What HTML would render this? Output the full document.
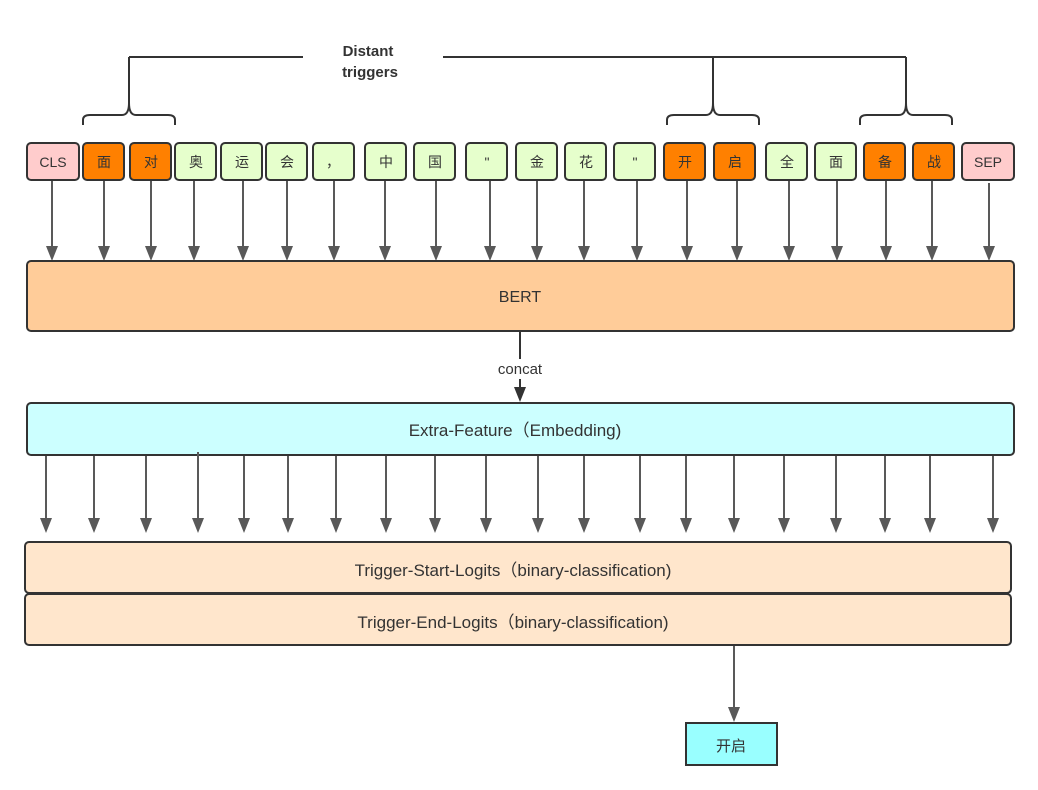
<!DOCTYPE html>
<html><head><meta charset="utf-8"><style>
html,body{margin:0;padding:0;background:#fff;}
svg{display:block;}
text{font-family:"Liberation Sans","Noto Sans CJK SC",sans-serif;fill:#333;}
</style></head><body>
<svg width="1038" height="790" viewBox="0 0 1038 790" xmlns="http://www.w3.org/2000/svg">
<defs>
<marker id="a" markerWidth="10" markerHeight="12" refX="5" refY="12" orient="auto" markerUnits="userSpaceOnUse" viewBox="0 0 10 12">
<path d="M0,0 L10,0 L5,12 Z" fill="#595959" transform="rotate(-90 5 6) translate(-1 1)"/>
</marker>
</defs>
<!-- brackets -->
<g fill="none" stroke="#333" stroke-width="2">
<path d="M129,57 H303 M443,57 H906"/>
<path d="M129,57 V103 M713,57 V103 M906,57 V103"/>
<path d="M83,125 V120 Q83,115 90,115 H122 Q129,115 129,103 Q129,115 136,115 H168 Q175,115 175,120 V125"/>
<path d="M667,125 V120 Q667,115 674,115 H706 Q713,115 713,103 Q713,115 720,115 H752 Q759,115 759,120 V125"/>
<path d="M860,125 V120 Q860,115 867,115 H899 Q906,115 906,103 Q906,115 913,115 H945 Q952,115 952,120 V125"/>
</g>
<text x="368" y="56" font-size="15" font-weight="bold" text-anchor="middle">Distant</text>
<text x="370" y="77" font-size="15" font-weight="bold" text-anchor="middle">triggers</text>
<!-- tokens -->
<g stroke="#333" stroke-width="2" font-size="14">
<rect x="27" y="143" width="52" height="37" rx="4" fill="#FFCCCC"/>
<rect x="83" y="143" width="41" height="37" rx="4" fill="#FF8000"/>
<rect x="130" y="143" width="41" height="37" rx="4" fill="#FF8000"/>
<rect x="175" y="143" width="41" height="37" rx="4" fill="#E6FFCC"/>
<rect x="221" y="143" width="41" height="37" rx="4" fill="#E6FFCC"/>
<rect x="266" y="143" width="41" height="37" rx="4" fill="#E6FFCC"/>
<rect x="313" y="143" width="41" height="37" rx="4" fill="#E6FFCC"/>
<rect x="365" y="143" width="41" height="37" rx="4" fill="#E6FFCC"/>
<rect x="414" y="143" width="41" height="37" rx="4" fill="#E6FFCC"/>
<rect x="466" y="143" width="41" height="37" rx="4" fill="#E6FFCC"/>
<rect x="516" y="143" width="41" height="37" rx="4" fill="#E6FFCC"/>
<rect x="565" y="143" width="41" height="37" rx="4" fill="#E6FFCC"/>
<rect x="614" y="143" width="41" height="37" rx="4" fill="#E6FFCC"/>
<rect x="664" y="143" width="41" height="37" rx="4" fill="#FF8000"/>
<rect x="714" y="143" width="41" height="37" rx="4" fill="#FF8000"/>
<rect x="766" y="143" width="41" height="37" rx="4" fill="#E6FFCC"/>
<rect x="815" y="143" width="41" height="37" rx="4" fill="#E6FFCC"/>
<rect x="864" y="143" width="41" height="37" rx="4" fill="#FF8000"/>
<rect x="913" y="143" width="41" height="37" rx="4" fill="#FF8000"/>
<rect x="962" y="143" width="52" height="37" rx="4" fill="#FFCCCC"/>
</g>
<g font-size="14" text-anchor="middle">
<text x="53" y="167">CLS</text><text x="104" y="167">面</text><text x="151" y="167">对</text>
<text x="196" y="167">奥</text><text x="242" y="167">运</text><text x="287" y="167">会</text>
<text x="333" y="167">，</text><text x="386" y="167">中</text><text x="435" y="167">国</text>
<text x="487" y="167">"</text><text x="537" y="167">金</text><text x="586" y="167">花</text>
<text x="635" y="167">"</text><text x="685" y="167">开</text><text x="735" y="167">启</text>
<text x="787" y="167">全</text><text x="836" y="167">面</text><text x="885" y="167">备</text>
<text x="934" y="167">战</text><text x="988" y="167">SEP</text>
</g>
<!-- arrows row 1 -->
<g stroke="#595959" stroke-width="2" fill="#595959">
<g id="r1">
</g>
</g>
<g fill="#595959" stroke="#595959" stroke-width="2">
<path d="M52,181V248 M104,181V248 M151,181V248 M194,181V248 M243,181V248 M287,181V248 M334,181V248 M385,181V248 M436,181V248 M490,181V248 M537,181V248 M584,181V248 M637,181V248 M687,181V248 M737,181V248 M789,181V248 M837,181V248 M886,181V248 M932,181V248 M989,183V248"/>
</g>
<g fill="#595959">
<path d="M46,246h12l-6,15z M98,246h12l-6,15z M145,246h12l-6,15z M188,246h12l-6,15z M237,246h12l-6,15z M281,246h12l-6,15z M328,246h12l-6,15z M379,246h12l-6,15z M430,246h12l-6,15z M484,246h12l-6,15z M531,246h12l-6,15z M578,246h12l-6,15z M631,246h12l-6,15z M681,246h12l-6,15z M731,246h12l-6,15z M783,246h12l-6,15z M831,246h12l-6,15z M880,246h12l-6,15z M926,246h12l-6,15z M983,246h12l-6,15z"/>
</g>
<!-- BERT -->
<rect x="27" y="261" width="987" height="70" rx="4" fill="#FFCC99" stroke="#333" stroke-width="2"/>
<text x="520" y="302" font-size="16" text-anchor="middle">BERT</text>
<!-- concat -->
<path d="M520,332V388" stroke="#333" stroke-width="2"/>
<rect x="490" y="359" width="60" height="20" fill="#fff"/>
<text x="520" y="374" font-size="15" text-anchor="middle">concat</text>
<path d="M514,387h12l-6,15z" fill="#333"/>
<!-- Extra feature -->
<rect x="27" y="403" width="987" height="52" rx="4" fill="#CCFFFF" stroke="#333" stroke-width="2"/>
<text x="515" y="436" font-size="17" text-anchor="middle">Extra-Feature（Embedding)</text>
<!-- arrows row 2 -->
<g stroke="#595959" stroke-width="2">
<path d="M46,456V520 M94,456V520 M146,456V520 M198,452V520 M244,456V520 M288,456V520 M336,456V520 M386,456V520 M435,456V520 M486,456V520 M538,456V520 M584,456V520 M640,456V520 M686,456V520 M734,456V520 M784,456V520 M836,456V520 M885,456V520 M930,456V520 M993,456V520"/>
</g>
<g fill="#595959">
<path d="M40,518h12l-6,15z M88,518h12l-6,15z M140,518h12l-6,15z M192,518h12l-6,15z M238,518h12l-6,15z M282,518h12l-6,15z M330,518h12l-6,15z M380,518h12l-6,15z M429,518h12l-6,15z M480,518h12l-6,15z M532,518h12l-6,15z M578,518h12l-6,15z M634,518h12l-6,15z M680,518h12l-6,15z M728,518h12l-6,15z M778,518h12l-6,15z M830,518h12l-6,15z M879,518h12l-6,15z M924,518h12l-6,15z M987,518h12l-6,15z"/>
</g>
<!-- logits -->
<rect x="25" y="542" width="986" height="51" rx="4" fill="#FFE6CC" stroke="#333" stroke-width="2"/>
<rect x="25" y="594" width="986" height="51" rx="4" fill="#FFE6CC" stroke="#333" stroke-width="2"/>
<text x="513" y="576" font-size="17" text-anchor="middle">Trigger-Start-Logits（binary-classification)</text>
<text x="513" y="628" font-size="17" text-anchor="middle">Trigger-End-Logits（binary-classification)</text>
<!-- output -->
<path d="M734,646V708" stroke="#595959" stroke-width="2"/>
<path d="M728,707h12l-6,15z" fill="#595959"/>
<rect x="686" y="723" width="91" height="42" fill="#99FFFF" stroke="#333" stroke-width="2"/>
<text x="731" y="751" font-size="15" text-anchor="middle">开启</text>
</svg>
</body></html>
